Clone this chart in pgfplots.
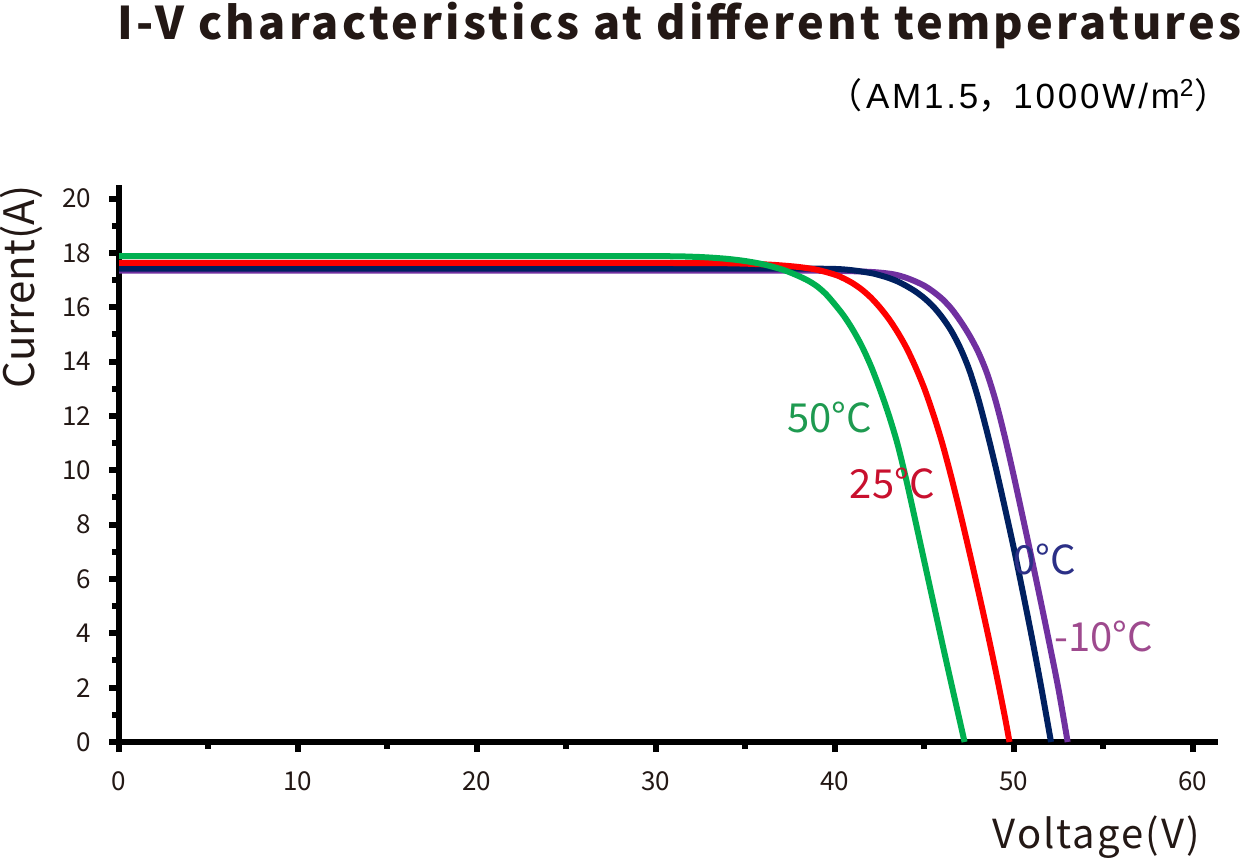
\documentclass[border=0pt]{standalone}
\usepackage{fontspec}
\setmainfont{Noto Sans CJK SC}
\newfontfamily\lib{Liberation Sans}
\newfontfamily\cjk{Noto Sans CJK SC}
\usepackage{pgfplots}
\pgfplotsset{compat=1.18}
\definecolor{cgreen}{HTML}{00B050}
\definecolor{cred}{HTML}{FF0000}
\definecolor{cnavy}{HTML}{002060}
\definecolor{cpurple}{HTML}{7030A0}
\definecolor{tgreen}{HTML}{1E9A50}
\definecolor{tred}{HTML}{C8102E}
\definecolor{tnavy}{HTML}{2B2F86}
\definecolor{tpurple}{HTML}{9E4A8E}
\definecolor{ttl}{HTML}{231815}
\begin{document}
\begin{tikzpicture}
\useasboundingbox (0,0) rectangle (621pt,431.5pt);
\begin{axis}[
  at={(59.5pt,60.5pt)}, anchor=south west,
  scale only axis, width=549.5pt, height=278.5pt,
  xmin=0, xmax=61.4, ymin=0, ymax=20.5,
  axis x line=bottom, axis y line=left,
  axis line style={-, line width=3pt, black},
  xtick={0,10,...,60}, ytick={0,2,...,20},
  minor xtick={5,15,...,55}, minor ytick={1,3,...,19},
  tick align=outside,
  major tick length=5pt, minor tick length=3.5pt,
  every tick/.style={black, line width=3pt},
  /pgf/number format/assume math mode=true,
  tick label style={font=\fontsize{13}{15}\selectfont, text=ttl},
  xticklabel style={yshift=-6.5pt},
  yticklabel style={xshift=-5.5pt},
  clip=false,
]
\addplot[cpurple, line width=3pt, smooth] coordinates {
(0,17.35) (10,17.35) (20,17.35) (30,17.35) (35,17.35) (40,17.34) (42,17.3) (43,17.24)
(43.5,17.18) (44,17.08) (44.5,16.95) (45,16.79) (45.5,16.57) (46,16.3) (46.5,15.95)
(47,15.5) (47.5,14.98) (48,14.36) (48.5,13.56) (49,12.5) (49.5,11.2) (50,9.76)
(50.5,8.25) (51,6.72) (51.5,5.16) (52,3.56) (52.5,1.9) (53.0,0)};
\addplot[cnavy, line width=3pt, smooth] coordinates {
(0,17.42) (10,17.42) (20,17.42) (30,17.42) (38,17.42) (40,17.41) (41,17.36) (42,17.26)
(42.5,17.18) (43,17.08) (43.5,16.95) (44,16.78) (44.5,16.58) (45,16.33) (45.5,16.02)
(46,15.62) (46.5,15.13) (47,14.5) (47.5,13.7) (48,12.65) (48.5,11.4) (49,10.05)
(49.5,8.6) (50,7.1) (50.5,5.5) (51,3.85) (51.5,2.1) (52.07,0)};
\addplot[cred, line width=3pt, smooth] coordinates {
(0,17.63) (10,17.63) (20,17.63) (30,17.63) (34,17.62) (36,17.58) (37,17.54) (38,17.48)
(39,17.38) (40,17.2) (40.5,17.06) (41,16.88) (41.5,16.65) (42,16.36) (42.5,16.0)
(43,15.58) (43.5,15.08) (44,14.5) (44.5,13.8) (45,13.0) (45.5,12.05) (46,10.98)
(46.5,9.75) (47,8.42) (47.5,7.02) (48,5.58) (48.5,4.1) (49,2.55) (49.5,0.9) (49.75,0)};
\addplot[cgreen, line width=3pt, smooth] coordinates {
(0,17.88) (10,17.88) (20,17.88) (30,17.88) (32,17.86) (33,17.83) (34,17.78) (35,17.7)
(36,17.58) (37,17.4) (37.5,17.28) (38,17.14) (38.5,16.98) (39,16.77) (39.5,16.48)
(40,16.1) (40.5,15.68) (41,15.17) (41.5,14.57) (42,13.85) (42.5,13.0) (43,12.05)
(43.5,10.95) (44,9.6) (44.5,8.12) (45,6.62) (45.5,5.12) (46,3.62) (46.5,2.15)
(47,0.7) (47.24,0)};
\node[text=tgreen, font=\fontsize{20}{22}\selectfont, inner sep=0] at (axis cs:39.7,11.95) {50°C};
\node[text=tred, font=\fontsize{20}{22}\selectfont, inner sep=0] at (axis cs:43.2,9.5) {25°C};
\node[text=tnavy, font=\fontsize{20}{22}\selectfont, inner sep=0] at (axis cs:51.7,6.73) {0°C};
\node[text=tpurple, font=\fontsize{20}{22}\selectfont, inner sep=0] at (axis cs:55.0,3.9) {-10°C};
\end{axis}
\node[anchor=base west, text=ttl, font=\fontsize{22.5}{26}\selectfont\bfseries\addfontfeature{LetterSpace=7.2}, inner sep=0] at (58.5pt,411.5pt) {I-V characteristics at different temperatures};
\node[anchor=base east, text=black, inner sep=0, font=\fontsize{17.5}{20}\selectfont] at (615pt,377pt) {{\cjk （}\hspace{2pt}{\lib\addfontfeature{LetterSpace=8}AM1.5}{\cjk ，}{\lib\addfontfeature{LetterSpace=8}1000W/m\textsuperscript{2}}{\cjk ）}};
\node[rotate=90, text=ttl, inner sep=0, font=\fontsize{21}{24}\selectfont] at (10.5pt,288pt) {Current(A)};
\node[anchor=base east, text=ttl, inner sep=0, font=\fontsize{20}{22}\selectfont\addfontfeature{LetterSpace=5}] at (600pt,7.5pt) {Voltage(V)};
\end{tikzpicture}
\end{document}
